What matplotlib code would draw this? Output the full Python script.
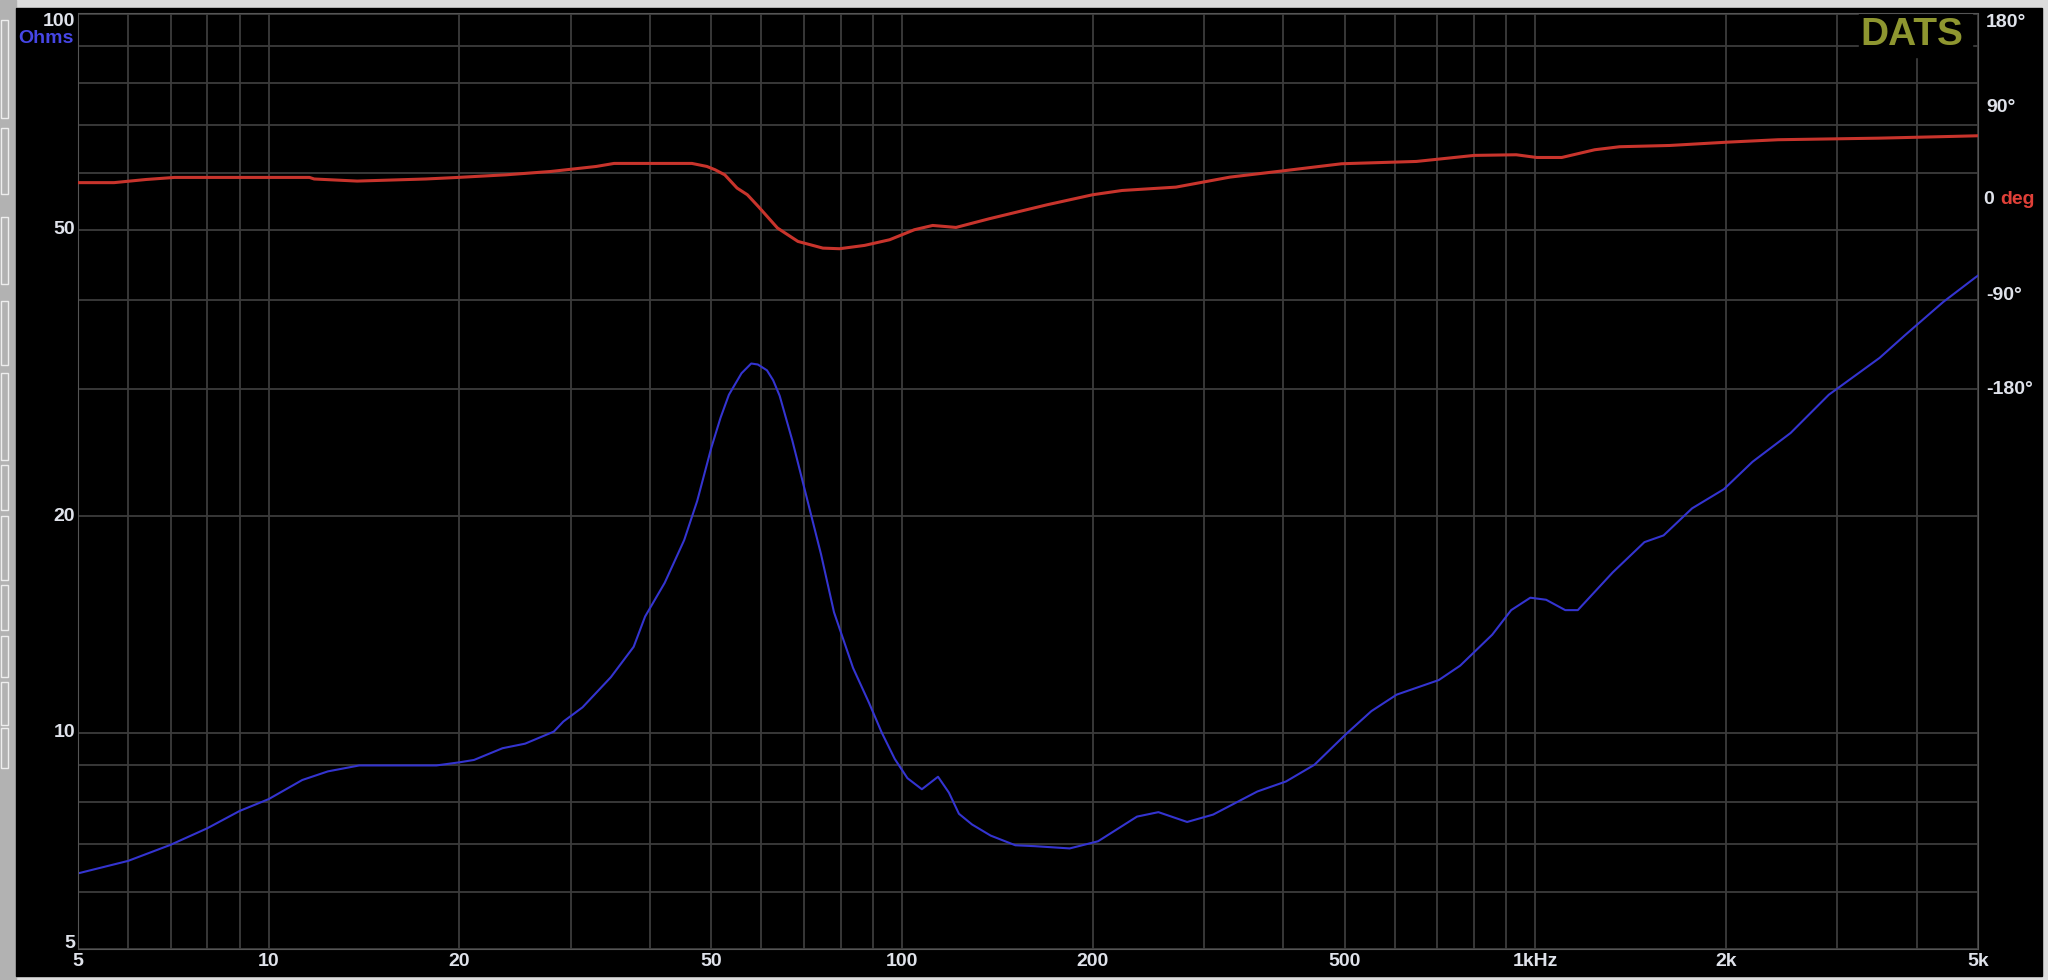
import matplotlib
matplotlib.use("Agg")
import matplotlib.pyplot as plt
from matplotlib.patches import Rectangle
from matplotlib.ticker import FixedLocator, NullFormatter

# impedance magnitude (Hz, ohm)
freq_z = [5.0, 6.0, 7.0, 8.0, 9.0, 10.0, 11.3, 12.4, 13.9, 18.4, 20.0, 21.1, 23.4, 25.4,
          28.2, 29.2, 31.3, 34.7, 37.7, 39.3, 42.2, 45.3, 47.5, 50.0, 51.7, 53.3, 55.8, 57.8,
          59.2, 61.2, 62.6, 64.1, 67.1, 70.0, 74.5, 78.1, 83.7, 88.7, 92.9, 97.4, 102, 107.5,
          114, 118.6, 123, 129, 138, 151, 162, 184, 204, 235, 254, 282, 310, 364, 404,
          448, 503, 551, 604, 704, 761, 855, 916, 982, 1040, 1115, 1167, 1325, 1487,
          1594, 1768, 1985, 2203, 2530, 2907, 3497, 3835, 4406, 4945, 5000]
z_ohms = [6.37, 6.63, 6.98, 7.36, 7.78, 8.08, 8.59, 8.83, 9.0, 9.0, 9.09, 9.16, 9.51, 9.65,
          10.03, 10.36, 10.84, 11.94, 13.16, 14.5, 16.15, 18.52, 21.0, 24.9, 27.4, 29.5, 31.6, 32.6,
          32.5, 31.9, 30.9, 29.4, 25.5, 22.0, 17.7, 14.7, 12.3, 11.0, 10.0, 9.19, 8.64, 8.34,
          8.68, 8.25, 7.71, 7.45, 7.19, 6.97, 6.95, 6.9, 7.06, 7.64, 7.75, 7.51, 7.69, 8.28, 8.55,
          9.02, 9.96, 10.71, 11.29, 11.83, 12.39, 13.68, 14.8, 15.4, 15.3, 14.8, 14.8, 16.7, 18.4,
          18.8, 20.5, 21.8, 23.8, 26.1, 29.5, 33.2, 35.7, 39.7, 42.9, 43.2]

# impedance phase (Hz, degrees)
freq_ph = [5.0, 5.7, 6.4, 7.1, 11.6, 11.8, 13.8, 17.7, 19.9, 23.7, 27.9, 32.9, 35.1, 46.6,
           49.2, 50.7, 52.5, 54.9, 57.0, 59.3, 63.6, 68.5, 75, 79.7, 87.3, 95.6, 104.6, 111.8,
           121.7, 137.3, 169.5, 200, 222.6, 270.7, 329.5, 400.8, 494.6, 649, 801, 933, 1005,
           1101, 1241, 1359, 1630, 2014, 2418, 3482, 4565, 5000]
phase_deg = [18, 18, 21, 23, 23, 21.5, 19.5, 21.5, 23, 25.5, 28.7, 33.5, 36.4, 36.4,
             33.5, 30.3, 25.5, 12.8, 6.4, -4.8, -25.5, -38.3, -44.7, -45.3, -42.1, -36.7, -27.1, -23,
             -24.9, -16.6, -3.2, 6.4, 10.5, 13.7, 23.3, 29.4, 36.1, 38.3, 44.1, 44.7, 42.1,
             42.1, 49.5, 52.4, 53.6, 56.8, 59.1, 60.6, 62.3, 62.9]

x_major = [5, 10, 20, 50, 100, 200, 500, 1000, 2000, 5000]
x_labels = ["5", "10", "20", "50", "100", "200", "500", "1kHz", "2k", "5k"]
x_minor = [6, 7, 8, 9, 30, 40, 60, 70, 80, 90, 300, 400, 600, 700, 800, 900, 3000, 4000]
z_major = [5, 10, 20, 50, 100]
z_minor = [6, 7, 8, 9, 30, 40, 60, 70, 80, 90]
ph_ticks = [180, 90, -90, -180]

W, H = 2048, 980
LBL = "#dfe2ea"
FS = 14
plt.rcParams["font.family"] = ["Liberation Sans", "DejaVu Sans"]

fig = plt.figure(figsize=(W / 100, H / 100), dpi=100)
fig.patch.set_facecolor("#dcdcdc")

# window chrome
fig.add_artist(Rectangle((0, 0), 16 / W, 1, transform=fig.transFigure, color="#b2b2b2", zorder=0))
fig.add_artist(Rectangle((16 / W, 4 / H), 2026 / W, 968 / H, transform=fig.transFigure,
                         color="black", zorder=0))
for y0, y1 in [(20, 118), (128, 194), (217, 284), (301, 365), (373, 460), (465, 510),
               (516, 580), (585, 630), (636, 677), (682, 725), (728, 768)]:
    fig.add_artist(Rectangle((1 / W, 1 - y1 / H), 7 / W, (y1 - y0) / H, transform=fig.transFigure,
                             facecolor="none", edgecolor="#eeeeee", lw=1, zorder=1))

ax = fig.add_axes([78 / W, 31 / H, 1900 / W, 935.5 / H])
ax.set_facecolor("black")
ax.set_xscale("log")
ax.set_yscale("log")
ax.set_xlim(5, 5000)
ax.set_ylim(5, 100)

ax.xaxis.set_major_locator(FixedLocator(x_major))
ax.xaxis.set_minor_locator(FixedLocator(x_minor))
ax.set_xticks(x_major, x_labels)
ax.xaxis.set_minor_formatter(NullFormatter())
ax.yaxis.set_major_locator(FixedLocator(z_major))
ax.yaxis.set_minor_locator(FixedLocator(z_minor))
ax.yaxis.set_major_formatter(NullFormatter())
ax.yaxis.set_minor_formatter(NullFormatter())
ax.tick_params(which="both", length=0, colors=LBL, labelsize=FS, pad=3)
for t in ax.get_xticklabels():
    t.set_fontweight("bold")
ax.grid(True, which="both", color="#3c3c3c", lw=1.3)
for s in ax.spines.values():
    s.set_color("#555555")

# left value labels
for v in z_major:
    dy = -8 if v == 100 else (5 if v == 5 else 0)
    ax.annotate(str(v), xy=(0, v), xycoords=("axes fraction", "data"), xytext=(-3, dy),
                textcoords="offset pixels", ha="right", va="center", color=LBL,
                fontsize=FS, fontweight="bold")
ax.annotate("Ohms", xy=(0, 100), xycoords=("axes fraction", "data"), xytext=(-4, -25),
            textcoords="offset pixels", ha="right", va="center", color="#4646e6",
            fontsize=FS, fontweight="bold")

# DATS badge
ax.add_patch(Rectangle((0.9374, 0.9535), 0.0594, 0.0465, transform=ax.transAxes,
                       color="black", zorder=1.8))
ax.text(0.9653, 0.977, "DATS", transform=ax.transAxes, ha="center", va="center",
        color="#8e9630", fontsize=28, fontweight="bold", zorder=3)

ax.plot(freq_z, z_ohms, color="#3434d0", lw=1.5, zorder=2)

ax2 = ax.twinx()
ax2.set_ylim(-716, 180)
ax2.set_yticks([])
for s in ax2.spines.values():
    s.set_visible(False)
ax2.plot(freq_ph, phase_deg, color="#c8342c", lw=2.2, zorder=2)

for v in ph_ticks:
    dy = -9 if v == 180 else 0
    ax2.annotate(f"{v}\u00b0", xy=(1, v), xycoords=("axes fraction", "data"), xytext=(8, dy),
                 textcoords="offset pixels", ha="left", va="center", color=LBL,
                 fontsize=FS, fontweight="bold")
ax2.annotate("0", xy=(1, 0), xycoords=("axes fraction", "data"), xytext=(5, 2),
             textcoords="offset pixels", ha="left", va="center", color=LBL,
             fontsize=FS, fontweight="bold")
ax2.annotate("deg", xy=(1, 0), xycoords=("axes fraction", "data"), xytext=(22, 2),
             textcoords="offset pixels", ha="left", va="center", color="#e04038",
             fontsize=FS, fontweight="bold")

fig.savefig("out.png", dpi=100, facecolor=fig.get_facecolor())
